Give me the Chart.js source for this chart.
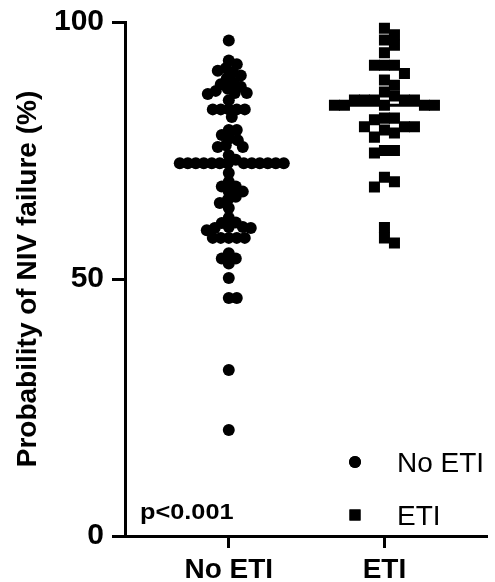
<!DOCTYPE html>
<html>
<head>
<meta charset="utf-8">
<script src="https://cdn.jsdelivr.net/npm/chart.js@4.4.1/dist/chart.umd.min.js"></script>
<style>
  html, body { margin: 0; padding: 0; background: #fff; }
  #wrap { width: 495px; height: 582px; position: relative; }
</style>
</head>
<body>
<div id="wrap"><canvas id="myChart" width="495" height="582"></canvas></div>
<script>
// data
const categories = ['No ETI', 'ETI'];
const yTicks = [0, 50, 100];

const noEti = [
    96.4,
    92.5, 91.8, 91, 90.5, 90.2,
    89.6, 89, 88.2, 87.9, 87.4, 87, 86.6, 86.2, 86.2, 86, 84.8,
    83, 83, 83, 83, 83, 81.5,
    79, 79, 78, 77.4, 77, 76, 75.7, 75.7, 74.1, 73.2,
    72.5, 72.5, 72.5, 72.5, 72.5, 72.5, 72.5, 72.5, 72.5, 72.5, 72.5, 72.5, 72.5,
    70.6, 68.9, 68, 68, 67, 67, 66, 65.4, 64.8, 63.8,
    61.9, 61, 60.9, 60.1, 60.1, 59.9, 59.9, 59.5,
    58, 58, 58, 58, 58,
    55, 54, 54, 53, 50.2, 46.3, 46.3, 32.3, 20.6
];

const eti = [
    98.8, 97.5, 96.5, 95.5, 94, 91.6, 91.6, 91.6, 90, 88.7, 87.7, 86.4, 85.6,
    84.8, 84.8, 84.8, 84.8, 84.8, 83.8, 83.8, 83.8, 83.8, 83.8,
    81.3, 81.3, 81, 79.6, 79.6, 79.6, 79, 78.4, 77.6, 75, 75, 74.5,
    69.8, 68.9, 67.9, 60, 58, 57
];

const pText = 'p<0.001';

function median(arr) {
    const s = arr.slice().sort((a, b) => a - b);
    const m = Math.floor(s.length / 2);
    return s.length % 2 ? s[m] : (s[m - 1] + s[m]) / 2;
}

const FONT = "'Liberation Sans', Arial, sans-serif";
const halfBar = 0.33;

const groups = [noEti, eti];
const medLines = groups.map((g, i) => {
    const m = median(g);
    return [{ x: i + 1 - halfBar, y: m }, { x: i + 1 + halfBar, y: m }];
});

// swarm offsets are filled in after the first layout
const pts = groups.map((g, i) => g.map(v => ({ x: i + 1, y: v })));

// legend + p value, drawn inside the plot area
const extras = {
    id: 'extras',
    afterDraw(chart) {
        const ctx = chart.ctx;
        const a = chart.chartArea;
        ctx.save();
        ctx.fillStyle = '#000';
        ctx.font = 'bold 22px ' + FONT;
        ctx.textBaseline = 'alphabetic';
        ctx.textAlign = 'left';
        ctx.save();
        ctx.translate(a.left + 15, a.bottom - 17);
        ctx.scale(1.15, 1);
        ctx.fillText(pText, 0, 0);
        ctx.restore();

        const lx = a.left + 230;
        Chart.helpers.drawPoint(ctx, { pointStyle: 'circle', radius: 6, rotation: 0, borderWidth: 0 }, lx, 462);
        ctx.fill();
        Chart.helpers.drawPoint(ctx, { pointStyle: 'rect', radius: 7.8, rotation: 0, borderWidth: 0 }, lx, 515);
        ctx.fill();
        ctx.font = '28px ' + FONT;
        ctx.textBaseline = 'middle';
        ctx.fillText(categories[0], lx + 42, 464);
        ctx.fillText(categories[1], lx + 42, 517);
        ctx.restore();
    }
};

const config = {
    data: {
        datasets: [
            {
                type: 'scatter',
                label: categories[0],
                data: pts[0],
                pointStyle: 'circle',
                pointRadius: 6,
                pointBorderWidth: 0,
                backgroundColor: '#000',
                borderColor: '#000',
                order: 2
            },
            {
                type: 'scatter',
                label: categories[1],
                data: pts[1],
                pointStyle: 'rect',
                pointRadius: 7.8,
                pointBorderWidth: 0,
                backgroundColor: '#000',
                borderColor: '#000',
                order: 2
            },
            {
                type: 'line',
                data: medLines[0],
                borderColor: '#000',
                borderWidth: 3,
                pointRadius: 0,
                order: 1
            },
            {
                type: 'line',
                data: medLines[1],
                borderColor: '#000',
                borderWidth: 3,
                pointRadius: 0,
                order: 1
            }
        ]
    },
    options: {
        responsive: false,
        animation: false,
        layout: { padding: { top: 22, right: 0, bottom: 0, left: 0 } },
        scales: {
            x: {
                type: 'linear',
                min: 1 / 3,
                max: 2.66,
                afterBuildTicks: s => { s.ticks = [{ value: 1 }, { value: 2 }]; },
                afterFit: s => { s.height = 46; s.paddingLeft = 0; s.paddingRight = 0; },
                grid: {
                    drawOnChartArea: false,
                    drawTicks: true,
                    tickLength: 12,
                    tickWidth: 3,
                    color: '#000'
                },
                border: { display: true, color: '#000', width: 3 },
                ticks: {
                    color: '#000',
                    padding: 5,
                    maxRotation: 0,
                    autoSkip: false,
                    font: { family: FONT, size: 28, weight: 'bold' },
                    callback: v => categories[v - 1]
                }
            },
            y: {
                min: 0,
                max: 100,
                afterBuildTicks: s => { s.ticks = yTicks.map(v => ({ value: v })); },
                afterFit: s => { s.width = 125; s.paddingTop = 0; s.paddingBottom = 0; },
                grid: {
                    drawOnChartArea: false,
                    drawTicks: true,
                    tickLength: 13,
                    tickWidth: 3,
                    color: '#000'
                },
                border: { display: true, color: '#000', width: 3 },
                ticks: {
                    color: '#000',
                    padding: 8,
                    font: { family: FONT, size: 30, weight: 'bold' }
                },
                title: {
                    display: true,
                    text: 'Probability of NIV failure (%)',
                    color: '#000',
                    padding: { top: 11, bottom: 0 },
                    font: { family: FONT, size: 28, weight: 'bold' }
                }
            }
        },
        plugins: {
            legend: { display: false },
            tooltip: { enabled: false }
        }
    },
    plugins: [extras]
};

const myChart = new Chart(document.getElementById('myChart'), config);

// simple beeswarm: place each point at the nearest free x offset
function swarm(values, dist, square) {
    const ys = myChart.scales.y;
    const xs = myChart.scales.x;
    const unit = xs.getPixelForValue(2) - xs.getPixelForValue(1);
    const order = values.map((v, i) => i).sort((a, b) => values[b] - values[a]);
    const placed = [];
    const offs = new Array(values.length).fill(0);
    order.forEach(i => {
        const py = ys.getPixelForValue(values[i]);
        for (let k = 0; k < 400; k++) {
            const dx = (k % 2 ? 1 : -1) * Math.ceil(k / 2);
            const hit = placed.some(p => {
                const ddx = Math.abs(p.x - dx), ddy = Math.abs(p.y - py);
                return square ? Math.max(ddx, ddy) < dist : Math.hypot(ddx, ddy) < dist;
            });
            if (!hit) {
                placed.push({ x: dx, y: py });
                offs[i] = dx / unit;
                break;
            }
        }
    });
    return offs;
}

const o1 = swarm(noEti, 8, false);
const o2 = swarm(eti, 10, true);
pts[0].forEach((p, i) => { p.x = 1 + o1[i]; });
pts[1].forEach((p, i) => { p.x = 2 + o2[i]; });
myChart.update('none');
</script>
</body>
</html>
